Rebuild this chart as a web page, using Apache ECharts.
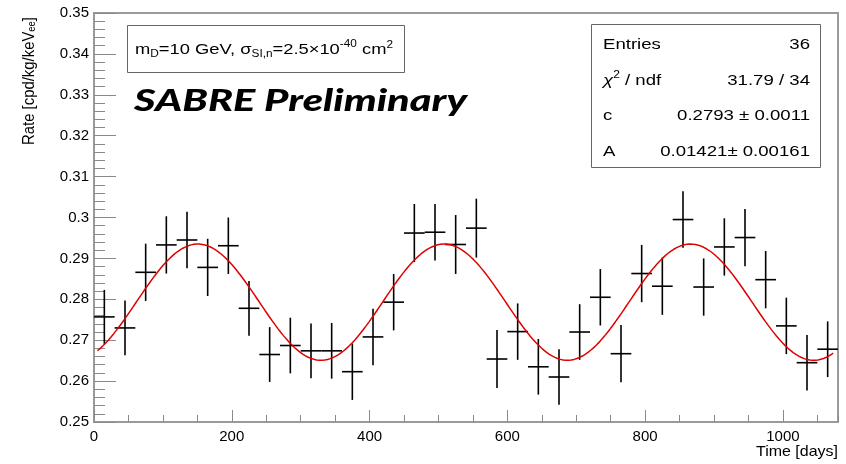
<!DOCTYPE html>
<html><head><meta charset="utf-8">
<script src="https://cdn.jsdelivr.net/npm/echarts@6/dist/echarts.min.js"></script>
<style>html,body{margin:0;padding:0;background:#fff}#c{width:846px;height:464px}</style>
</head><body><div id="c"></div>
<script>
// ---- data ----
const days = [15,45,75,105,135,165,195,225,255,285,315,345,375,405,435,465,495,525,555,585,615,645,675,705,735,765,795,825,855,885,915,945,975,1005,1035,1065];
const rates = [0.2757,0.2730,0.2866,0.2933,0.2945,0.2878,0.2931,0.2778,0.2665,0.2687,0.2674,0.2674,0.2623,0.2708,0.2793,0.2962,0.2964,0.2934,0.2974,0.2654,0.2721,0.2635,0.2610,0.2720,0.2805,0.2667,0.2863,0.2832,0.2995,0.2830,0.2928,0.2951,0.2848,0.2735,0.2645,0.2678];
const rateErrors = [0.0066,0.0067,0.0070,0.0070,0.0069,0.0070,0.0069,0.0067,0.0067,0.0068,0.0067,0.0068,0.0069,0.0069,0.0069,0.0071,0.0069,0.0072,0.0072,0.0071,0.0069,0.0068,0.0068,0.0068,0.0069,0.0070,0.0070,0.0070,0.0069,0.0070,0.0070,0.0070,0.0070,0.0069,0.0068,0.0068];
const binHalfWidth = 15;
// fit: c + A cos(2pi (t - phase)/period)
const fitC = 0.2793, fitA = 0.01421, fitPeriod = 357.6, fitPhase = 150.7;
const fitRange = [5, 1074];
const statValues = ['36', '31.79 / 34', '0.2793 \u00b1 0.0011', '0.01421\u00b1 0.00161'];

const fitCurve = [];
for (let t = fitRange[0]; t <= fitRange[1]; t += 2) {
  fitCurve.push([t, fitC + fitA * Math.cos(2 * Math.PI * (t - fitPhase) / fitPeriod)]);
}

const SANS = '"Liberation Sans", Arial, sans-serif';
const mctx = document.createElement('canvas').getContext('2d');
function tw(str, font) { mctx.font = font; return mctx.measureText(str).width; }
function textGroup(parts, o) {
  const fam = o.family || SANS;
  let cx = 0; const kids = [];
  parts.forEach(p => {
    const font = `${p.style || o.style || 'normal'} ${p.weight || o.weight || 'normal'} ${p.size}px ${fam}`;
    const w = tw(p.t, font);
    kids.push({type: 'text', x: cx, y: p.dy || 0, silent: true, z: 100,
      style: {text: p.t, font: font, fill: o.fill || '#000', align: 'left', verticalAlign: 'middle'}});
    cx += w + (p.gap || 0);
  });
  let sx = o.scaleX || 1;
  if (o.targetWidth) sx = o.targetWidth / cx;
  if (o.align === 'right') kids.forEach(k => { k.x -= cx; });
  return {type: 'group', x: o.x, y: o.y, scaleX: sx, scaleY: 1, rotation: o.rotation || 0, children: kids, silent: true, z: 100};
}

const tickStyle = {color: '#8a8a8a', width: 1};
const statsScale = 1.2;
const statRowsY = [44.5, 80.5, 115.5, 151.5];
const graphics = [
  {type: 'rect', shape: {x: 127.5, y: 25.5, width: 277, height: 47}, style: {fill: '#fff', stroke: '#666', lineWidth: 1}, z: 90},
  textGroup([
    {t: 'm', size: 15.5}, {t: 'D', size: 10, dy: 4.3},
    {t: '=10 GeV, \u03c3', size: 15.5}, {t: 'SI,n', size: 10, dy: 4.3},
    {t: '=2.5\u00d710', size: 15.5}, {t: '-40', size: 10, dy: -5.5},
    {t: ' cm', size: 15.5}, {t: '2', size: 10, dy: -4.5}
  ], {x: 135, y: 50, targetWidth: 258}),
  textGroup([{t: 'SABRE Preliminary', size: 31}], {x: 134, y: 101, family: 'Lato, "Open Sans", sans-serif', weight: '900', style: 'italic', targetWidth: 333}),
  {type: 'rect', shape: {x: 591.5, y: 24.5, width: 229, height: 143}, style: {fill: '#fff', stroke: '#666', lineWidth: 1}, z: 90},
  textGroup([{t: 'Entries', size: 15.5}], {x: 603, y: statRowsY[0], scaleX: statsScale}),
  textGroup([{t: '\u03c7', size: 15.5, style: 'italic'}, {t: '2', size: 10, dy: -5}, {t: ' / ndf', size: 15.5}], {x: 603, y: statRowsY[1], scaleX: statsScale}),
  textGroup([{t: 'c', size: 15.5}], {x: 603, y: statRowsY[2], scaleX: statsScale}),
  textGroup([{t: 'A', size: 15.5}], {x: 603, y: statRowsY[3], scaleX: statsScale}),
  ...statValues.map((v, i) => textGroup([{t: v, size: 15.5}], {x: 810, y: statRowsY[i], align: 'right', scaleX: statsScale})),
  textGroup([{t: 'Time [days]', size: 14.5}], {x: 838, y: 452, align: 'right', targetWidth: 82}),
  textGroup([{t: 'Rate [cpd/kg/keV', size: 16.5}, {t: 'ee', size: 10.5, dy: 3.5}, {t: ']', size: 16.5}],
    {x: 29, y: 145, rotation: Math.PI / 2, targetWidth: 128})
];

const chart = echarts.init(document.getElementById('c'), null, {renderer: 'canvas'});
chart.setOption({
  animation: false,
  backgroundColor: '#fff',
  grid: {left: 94, top: 13, right: 8, bottom: 42, show: true, borderColor: '#9a9a9a', borderWidth: 2, backgroundColor: 'transparent', containLabel: false},
  xAxis: [
    {type: 'value', min: 0, max: 1080, interval: 200, position: 'bottom',
      axisLine: {show: false}, axisTick: {inside: true, length: 12, lineStyle: tickStyle},
      axisLabel: {margin: 7, fontSize: 15, fontFamily: SANS, color: '#000', showMaxLabel: false, formatter: v => String(v)},
      splitLine: {show: false}},
    {type: 'value', min: 0, max: 1080, interval: 50, position: 'bottom',
      axisLine: {show: false}, axisTick: {inside: true, length: 7, lineStyle: tickStyle},
      axisLabel: {show: false}, splitLine: {show: false}}
  ],
  yAxis: {type: 'value', min: 0.25, max: 0.35, interval: 0.01,
    axisLine: {show: false}, axisTick: {inside: true, length: 22, lineStyle: tickStyle},
    minorTick: {show: true, splitNumber: 5, length: 11, lineStyle: tickStyle},
    axisLabel: {margin: 5, fontSize: 15, fontFamily: SANS, color: '#000', formatter: v => String(+v.toFixed(2))},
    splitLine: {show: false}},
  series: [
    {type: 'custom', xAxisIndex: 0, yAxisIndex: 0, z: 3,
      data: days.map((d, i) => [d, rates[i], rateErrors[i]]),
      encode: {x: 0, y: 1},
      renderItem: (params, api) => {
        const x = api.value(0), y = api.value(1), e = api.value(2);
        const c = api.coord([x, y]);
        const l = api.coord([x - binHalfWidth, y]);
        const r = api.coord([x + binHalfWidth, y]);
        const t = api.coord([x, y + e]);
        const b = api.coord([x, y - e]);
        const st = {stroke: '#000', lineWidth: 1.6};
        return {type: 'group', children: [
          {type: 'line', shape: {x1: l[0], y1: c[1], x2: r[0], y2: c[1]}, style: st},
          {type: 'line', shape: {x1: c[0], y1: t[1], x2: c[0], y2: b[1]}, style: st}
        ]};
      }},
    {type: 'line', xAxisIndex: 0, yAxisIndex: 0, z: 5, data: fitCurve, showSymbol: false, symbol: 'none',
      lineStyle: {color: '#e00000', width: 1.5}, silent: true}
  ],
  graphic: graphics
});
</script></body></html>
